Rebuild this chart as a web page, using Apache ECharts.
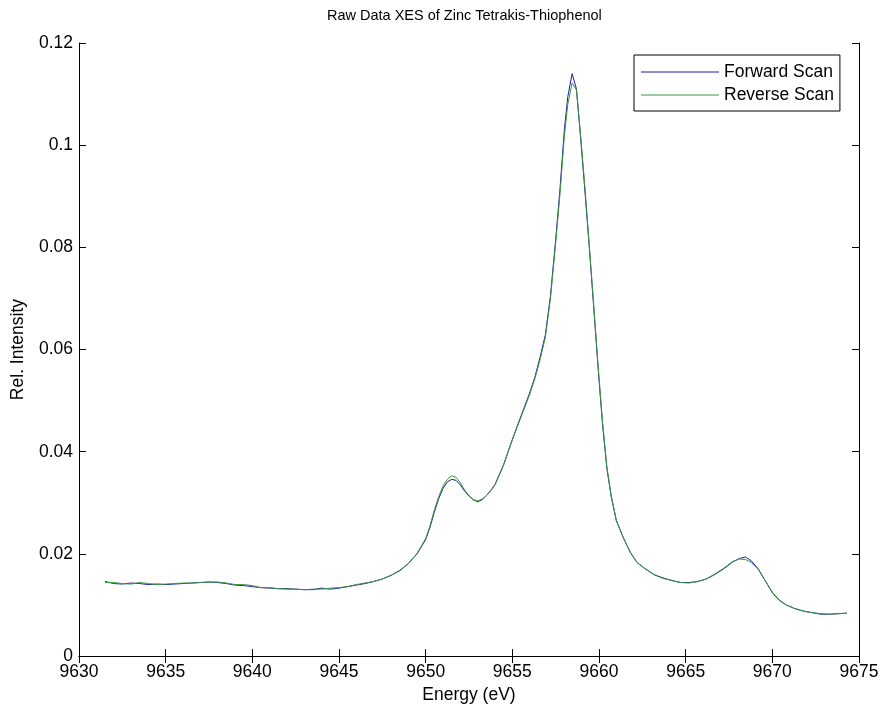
<!DOCTYPE html>
<html>
<head>
<meta charset="utf-8">
<script src="https://cdn.jsdelivr.net/npm/echarts@6/dist/echarts.min.js"></script>
<style>html,body{margin:0;padding:0;background:#fff;}#c{width:884px;height:709px;}</style>
</head>
<body>
<div id="c"></div>
<script>
const energy = [9631.5,9632,9632.5,9633,9633.5,9634,9634.5,9635,9635.5,9636,9636.5,9637,9637.5,9638,9638.5,9639,9639.5,9640,9640.5,9641,9641.5,9642,9642.5,9643,9643.5,9644,9644.5,9645,9645.5,9646,9646.5,9647,9647.5,9648,9648.5,9649,9649.5,9650,9650.25,9650.5,9650.75,9651,9651.25,9651.5,9651.75,9652,9652.25,9652.5,9652.75,9653,9653.25,9653.5,9653.75,9654,9654.5,9655,9655.5,9656,9656.3,9656.6,9656.9,9657.2,9657.5,9657.75,9658,9658.2,9658.45,9658.7,9658.95,9659.2,9659.45,9659.7,9659.95,9660.2,9660.45,9660.7,9661,9661.4,9661.8,9662.2,9662.7,9663.2,9663.7,9664.2,9664.7,9665.2,9665.7,9666.2,9666.7,9667.2,9667.7,9668.1,9668.45,9668.8,9669.2,9669.6,9670,9670.4,9670.8,9671.3,9671.8,9672.3,9672.8,9673.3,9673.8,9674.3];
const forwardScan = [0.0146,0.0142,0.0141,0.0143,0.0142,0.0140,0.0141,0.0140,0.0141,0.0142,0.0143,0.0144,0.0145,0.0144,0.0142,0.0139,0.0138,0.0136,0.0134,0.0133,0.0132,0.0132,0.0131,0.0130,0.0130,0.0133,0.0131,0.0133,0.0136,0.0139,0.0142,0.0146,0.0151,0.0158,0.0167,0.0181,0.0200,0.0228,0.0252,0.0282,0.0308,0.0328,0.0341,0.0346,0.0344,0.0335,0.0323,0.0313,0.0306,0.0302,0.0306,0.0314,0.0324,0.0336,0.0375,0.0424,0.0470,0.0515,0.0546,0.0585,0.0628,0.0705,0.0815,0.0915,0.1030,0.1095,0.1140,0.1110,0.1010,0.0905,0.0795,0.0680,0.0563,0.0455,0.0368,0.0313,0.0265,0.0232,0.0203,0.0183,0.0170,0.0159,0.0153,0.0148,0.0144,0.0144,0.0146,0.0151,0.0160,0.0171,0.0184,0.0191,0.0194,0.0186,0.0170,0.0147,0.0124,0.0109,0.0100,0.0093,0.0088,0.0085,0.0082,0.0082,0.0083,0.0084];
const reverseScan = [0.0144,0.0144,0.0142,0.0141,0.0144,0.0142,0.0140,0.0141,0.0142,0.0143,0.0143,0.0144,0.0145,0.0145,0.0143,0.0140,0.0140,0.0138,0.0134,0.0134,0.0132,0.0131,0.0131,0.0130,0.0131,0.0131,0.0133,0.0134,0.0136,0.0140,0.0143,0.0146,0.0151,0.0158,0.0168,0.0181,0.0201,0.0230,0.0255,0.0286,0.0312,0.0333,0.0346,0.0353,0.0350,0.0339,0.0325,0.0314,0.0306,0.0304,0.0307,0.0314,0.0323,0.0335,0.0374,0.0423,0.0468,0.0512,0.0543,0.0580,0.0623,0.0700,0.0808,0.0905,0.1018,0.1080,0.1122,0.1108,0.1015,0.0912,0.0800,0.0685,0.0568,0.0460,0.0372,0.0315,0.0266,0.0232,0.0204,0.0183,0.0170,0.0159,0.0152,0.0148,0.0144,0.0143,0.0146,0.0151,0.0161,0.0172,0.0185,0.0190,0.0189,0.0183,0.0169,0.0147,0.0125,0.0110,0.0100,0.0093,0.0088,0.0085,0.0083,0.0082,0.0083,0.0084];
const seriesNames = ['Forward Scan', 'Reverse Scan'];
const titleText = 'Raw Data XES of Zinc Tetrakis-Thiophenol';

const FONT = "'Liberation Sans', Arial, sans-serif";
const chart = echarts.init(document.getElementById('c'), null, {renderer: 'canvas'});
const pairs = (ys) => energy.map((e, i) => [e, ys[i]]);
const tickCommon = {show: true, inside: true, length: 7, lineStyle: {color: '#000', width: 1}};
const lineCommon = {show: true, lineStyle: {color: '#000', width: 1}};
chart.setOption({
  animation: false,
  backgroundColor: '#fff',
  title: {
    text: titleText, left: 327, top: 8, padding: 0,
    textStyle: {fontFamily: FONT, fontSize: 14.5, fontWeight: 'normal', color: '#000'}
  },
  grid: {left: 79, right: 25, top: 43, bottom: 50, containLabel: false},
  legend: {
    data: seriesNames, orient: 'vertical', left: 634, top: 55,
    icon: 'rect', itemWidth: 78, itemHeight: 1, itemGap: 5,
    padding: [8, 6, 7, 7],
    borderColor: '#000', borderWidth: 1, backgroundColor: '#fff',
    textStyle: {fontFamily: FONT, fontSize: 17.5, color: '#000'}
  },
  xAxis: [{
    type: 'value', min: 9630, max: 9675, interval: 5, position: 'bottom',
    name: 'Energy (eV)', nameLocation: 'middle', nameGap: 22,
    nameTextStyle: {fontFamily: FONT, fontSize: 17.5, color: '#000'},
    axisLine: lineCommon, axisTick: tickCommon, splitLine: {show: false},
    axisLabel: {fontFamily: FONT, fontSize: 17.5, color: '#000', margin: 7, formatter: (v) => String(v)}
  }, {
    type: 'value', min: 9630, max: 9675, interval: 5, position: 'top',
    axisLine: lineCommon, axisTick: tickCommon, splitLine: {show: false},
    axisLabel: {show: false}
  }],
  yAxis: [{
    type: 'value', min: 0, max: 0.12, interval: 0.02, position: 'left',
    name: 'Rel. Intensity', nameLocation: 'middle', nameGap: 52, nameRotate: 90,
    nameTextStyle: {fontFamily: FONT, fontSize: 17.5, color: '#000'},
    axisLine: lineCommon, axisTick: tickCommon, splitLine: {show: false},
    axisLabel: {fontFamily: FONT, fontSize: 17.5, color: '#000', margin: 6}
  }, {
    type: 'value', min: 0, max: 0.12, interval: 0.02, position: 'right',
    axisLine: lineCommon, axisTick: tickCommon, splitLine: {show: false},
    axisLabel: {show: false}
  }],
  series: [{
    name: seriesNames[0], type: 'line', data: pairs(forwardScan),
    xAxisIndex: 0, yAxisIndex: 0, symbol: 'none', smooth: false,
    lineStyle: {color: '#1c1ca8', width: 1}, itemStyle: {color: '#1c1ca8'}
  }, {
    name: seriesNames[1], type: 'line', data: pairs(reverseScan),
    xAxisIndex: 0, yAxisIndex: 0, symbol: 'none', smooth: false,
    lineStyle: {color: '#3a963a', width: 1}, itemStyle: {color: '#3a963a'}
  }]
});
</script>
</body>
</html>
